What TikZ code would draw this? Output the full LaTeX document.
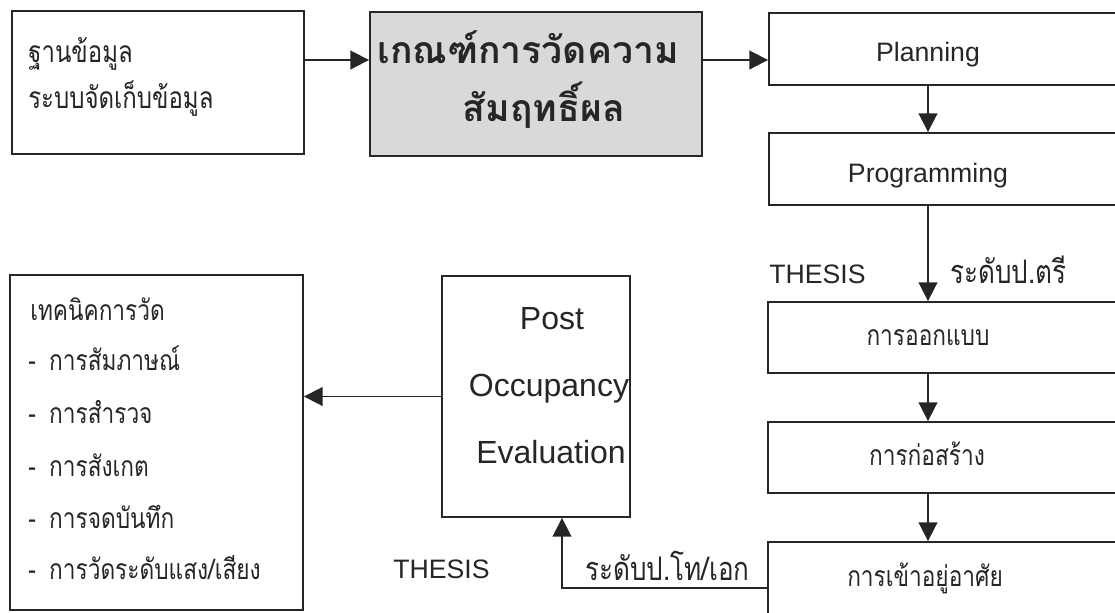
\documentclass[tikz,border=0pt]{standalone}
\usepackage{fontspec}
\setmainfont{Liberation Sans}
\newfontfamily\thai[Script=Thai]{Loma}
\newfontfamily\thaicond[Script=Thai,FakeStretch=0.8]{Loma}
\usetikzlibrary{arrows.meta,fit}
\definecolor{ink}{HTML}{262626}
\definecolor{shade}{HTML}{D9D9D9}

\begin{document}
\begin{tikzpicture}[x=0.75pt,y=-0.75pt,
  box/.style={draw=ink, line width=1.4pt, inner sep=0pt},
  arr/.style={draw=ink, line width=1.4pt, -{Triangle[length=14pt,width=14pt]}},
  lat/.style={font=\fontsize{20}{24}\selectfont, text=ink, inner sep=0pt, anchor=base},
  poetxt/.style={font=\fontsize{24}{28}\selectfont, text=ink, inner sep=0pt, anchor=base},
  th/.style={font=\thaicond\fontsize{21.25}{25}\selectfont, text=ink, inner sep=0pt, anchor=base},
  thl/.style={th, anchor=base west},
  thdb/.style={thl, font=\thaicond\fontsize{22.5}{26}\selectfont},
  thlab/.style={thl, font=\thaicond\fontsize{24.4}{28}\selectfont},
  head/.style={font=\thai\bfseries\fontsize{28}{32}\selectfont, text=ink, inner sep=0pt, anchor=base},
]
\useasboundingbox (0,0) rectangle (1115,612);

% guide coordinates
\coordinate (axis) at (928,0);
\coordinate (row) at (0,60);
\coordinate (ret) at (562,588);

% boxes
\node[box, fit={(12,11) (304,154)}] (db) {};
\node[box, fill=shade, fit={(370,12) (702,156)}] (crit) {};
\node[box, fit={(769,13) (1130,85)}] (plan) {};
\node[box, fit={(769,133) (1130,205)}] (prog) {};
\node[box, fit={(768,302) (1130,373)}] (design) {};
\node[box, fit={(768,422) (1130,493)}] (build) {};
\node[box, fit={(768,542) (1130,640)}] (occ) {};
\node[box, fit={(442,276) (630,517)}] (poe) {};
\node[box, fit={(10,275) (303,610)}] (tech) {};

% texts
\node[thdb] (db1) at (28,62) {ฐานข้อมูล};
\node[thdb] (db2) at (28,108) {ระบบจัดเก็บข้อมูล};
\node[head] (h1) at (528,63) {เกณฑ์การวัดความ};
\node[head] (h2) at (544,121) {สัมฤทธิ์ผล};
\node[lat] (t1) at (928,61) {Planning};
\node[lat] (t2) at (928,182) {Programming};
\node[th] (t3) at (928,345) {การออกแบบ};
\node[th] (t4) at (927,465) {การก่อสร้าง};
\node[th] (t5) at (925,586) {การเข้าอยู่อาศัย};
\node[poetxt] (p1) at (552,329) {Post};
\node[poetxt] (p2) at (549,396) {Occupancy};
\node[poetxt] (p3) at (551,463) {Evaluation};
\node[thl] (k0) at (30,320) {เทคนิคการวัด};
\node[thl] (k1) at (28,370) {-\hspace{10pt}การสัมภาษณ์};
\node[thl] (k2) at (28,423) {-\hspace{10pt}การสำรวจ};
\node[thl] (k3) at (28,476) {-\hspace{10pt}การสังเกต};
\node[thl] (k4) at (28,528) {-\hspace{10pt}การจดบันทึก};
\node[thl] (k5) at (28,579) {-\hspace{10pt}การวัดระดับแสง/เสียง};
\node[lat, anchor=base west] (la) at (769,283) {THESIS};
\node[thlab] (lb) at (950,283) {ระดับป.ตรี};
\node[lat, anchor=base west] (lc) at (393,578) {THESIS};
\node[thlab] (ld) at (585,580) {ระดับป.โท/เอก};

% connectors
\draw[arr] (db.east |- row) -- (crit.west |- row);
\draw[arr] (crit.east |- row) -- (plan.west |- row);
\draw[arr] (plan.south -| axis) -- (prog.north -| axis);
\draw[arr] (prog.south -| axis) -- (design.north -| axis);
\draw[arr] (design.south -| axis) -- (build.north -| axis);
\draw[arr] (build.south -| axis) -- (occ.north -| axis);
\draw[arr] (poe.west) -- (tech.east |- poe.west);
\draw[arr] (occ.west |- ret) -| (poe.south -| ret);
\end{tikzpicture}
\end{document}
